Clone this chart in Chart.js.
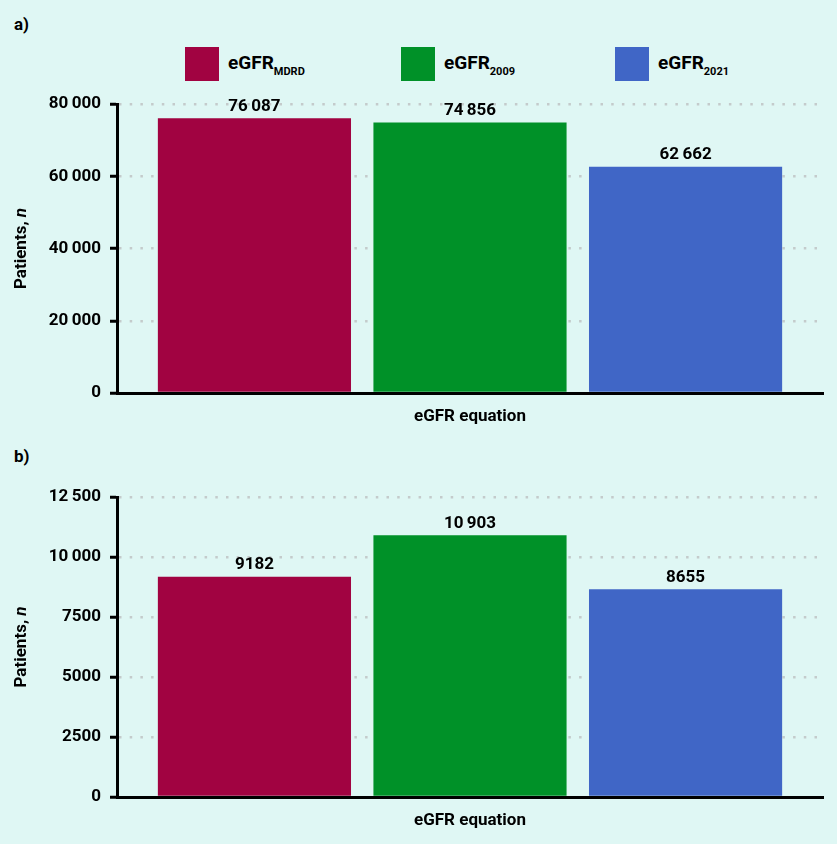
<!DOCTYPE html>
<html>
<head>
<meta charset="utf-8">
<script src="https://cdn.jsdelivr.net/npm/chart.js@4.4.1/dist/chart.umd.min.js"></script>
<style>
  html, body { margin: 0; padding: 0; background: #dff7f4; }
  body { width: 837px; height: 844px; position: relative; overflow: hidden; font-family: Roboto, "Liberation Sans", sans-serif; color: #000; }
  .panel { position: absolute; left: 0; width: 837px; }
  .plabel { position: absolute; left: 14px; font-weight: 700; font-size: 17px; }
  .leg { position: absolute; top: 47px; height: 34px; display: flex; align-items: center; font-weight: 700; font-size: 19px; white-space: nowrap; }
  .leg .box { width: 34px; height: 34px; margin-right: 9px; }
  .leg sub { font-size: 11px; vertical-align: -6px; }
</style>
</head>
<body>
<div class="plabel" style="top:14px">a)</div>
<div class="plabel" style="top:446px">b)</div>
<div id="legend"></div>
<div class="panel" style="top:0;height:435px"><canvas id="chartA" width="837" height="435"></canvas></div>
<div class="panel" style="top:435px;height:409px"><canvas id="chartB" width="837" height="409"></canvas></div>
<script>
// ---- data ----
const category = ['eGFR equation'];
const seriesMain = ['eGFR', 'eGFR', 'eGFR'];
const seriesSub = ['MDRD', '2009', '2021'];
const seriesColors = ['#a10341', '#009128', '#4066c6'];
const valuesA = [76087, 74856, 62662];
const valuesB = [9182, 10903, 8655];
const ticksA = [0, 20000, 40000, 60000, 80000];
const ticksB = [0, 2500, 5000, 7500, 10000, 12500];
const axisTitleX = 'eGFR equation';
const axisTitleY = 'Patients, ';
const axisTitleYItalic = 'n';

const FONT = 'Roboto, "Liberation Sans", sans-serif';

function fmt(v) {
  const s = String(v);
  return s.length > 4 ? s.slice(0, s.length - 3) + '\u2009' + s.slice(s.length - 3) : s;
}

// HTML legend with subscripts
const legendEl = document.getElementById('legend');
const legendLeft = [185, 401, 615];
seriesMain.forEach((m, i) => {
  const d = document.createElement('div');
  d.className = 'leg';
  d.style.left = legendLeft[i] + 'px';
  d.innerHTML = '<div class="box" style="background:' + seriesColors[i] + '"></div><span>' + m + '<sub>' + seriesSub[i] + '</sub></span>';
  legendEl.appendChild(d);
});

const valueLabels = {
  id: 'valueLabels',
  afterDatasetsDraw(chart) {
    const ctx = chart.ctx;
    ctx.save();
    ctx.font = '700 17px ' + FONT;
    ctx.fillStyle = '#000';
    ctx.textAlign = 'center';
    ctx.textBaseline = 'bottom';
    chart.data.datasets.forEach((ds, di) => {
      const meta = chart.getDatasetMeta(di);
      meta.data.forEach((bar, i) => {
        ctx.fillText(fmt(ds.data[i]), bar.x, bar.y - 3);
      });
    });
    ctx.restore();
  }
};

const yTitle = {
  id: 'yTitle',
  afterDraw(chart) {
    const ctx = chart.ctx;
    const ca = chart.chartArea;
    ctx.save();
    ctx.translate(22, (ca.top + ca.bottom) / 2);
    ctx.rotate(-Math.PI / 2);
    ctx.fillStyle = '#000';
    ctx.textBaseline = 'middle';
    ctx.font = '700 17px ' + FONT;
    const w1 = ctx.measureText(axisTitleY).width;
    ctx.font = 'italic 700 17px ' + FONT;
    const w2 = ctx.measureText(axisTitleYItalic).width;
    let x = -(w1 + w2) / 2;
    ctx.font = '700 17px ' + FONT;
    ctx.textAlign = 'left';
    ctx.fillText(axisTitleY, x, 0);
    ctx.font = 'italic 700 17px ' + FONT;
    ctx.fillText(axisTitleYItalic, x + w1, 0);
    ctx.restore();
  }
};

function makeChart(id, values, ticks, padTop, xHeight, titlePadBottom) {
  const datasets = values.map((v, i) => ({
    label: seriesMain[i] + seriesSub[i],
    data: [v],
    backgroundColor: seriesColors[i],
    categoryPercentage: 0.916,
    barPercentage: 0.896
  }));
  return new Chart(document.getElementById(id), {
    type: 'bar',
    data: { labels: category, datasets },
    plugins: [valueLabels, yTitle],
    options: {
      responsive: false,
      animation: false,
      devicePixelRatio: 1,
      layout: { padding: { top: padTop, right: 14, left: 0, bottom: 0 } },
      plugins: { legend: { display: false }, tooltip: { enabled: false } },
      scales: {
        x: {
          grid: { display: false },
          ticks: { display: false },
          border: { display: true, color: '#000', width: 3 },
          title: {
            display: true, text: axisTitleX, color: '#000',
            font: { family: FONT, size: 17, weight: '700' },
            padding: { top: 0, bottom: titlePadBottom }
          },
          afterFit(s) { s.height = xHeight; }
        },
        y: {
          min: ticks[0],
          max: ticks[ticks.length - 1],
          afterBuildTicks(s) { s.ticks = ticks.map(v => ({ value: v })); },
          ticks: {
            callback: v => fmt(v),
            color: '#000',
            font: { family: FONT, size: 17, weight: '700' },
            padding: 9
          },
          grid: {
            color: '#c4cbcb',
            lineWidth: 2.5,
            tickColor: '#000',
            tickWidth: 3,
            tickLength: 7,
            tickBorderDash: []
          },
          border: { display: true, color: '#000', width: 3, dash: [2.5, 8.2] },
          afterFit(s) { s.width = 117; }
        }
      }
    }
  });
}

makeChart('chartA', valuesA, ticksA, 104, 42, 8);
makeChart('chartB', valuesB, ticksB, 62, 47, 13);
</script>
</body>
</html>
